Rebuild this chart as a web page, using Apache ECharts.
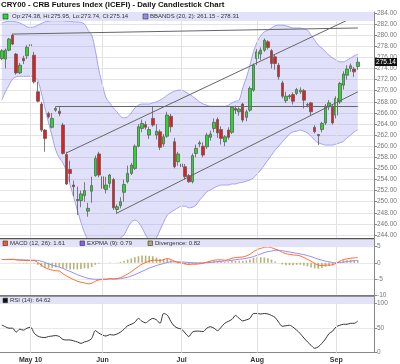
<!DOCTYPE html>
<html><head><meta charset="utf-8">
<script src="https://cdn.jsdelivr.net/npm/echarts@6/dist/echarts.min.js"></script>
<style>html,body{margin:0;padding:0;background:#fff}#c{width:400px;height:364px}</style>
</head><body><div id="c"></div>
<script>
// ---- categories (trading days 2010, plus 4 empty future slots) ----
const dates = ['04-21','04-22','04-23','04-26','04-27','04-28','04-29','04-30',
'05-03','05-04','05-05','05-06','05-07','05-10','05-11','05-12','05-13','05-14','05-17','05-18','05-19','05-20','05-21','05-24','05-25','05-26','05-27','05-28',
'06-01','06-02','06-03','06-04','06-07','06-08','06-09','06-10','06-11','06-14','06-15','06-16','06-17','06-18','06-21','06-22','06-23','06-24','06-25','06-28','06-29','06-30',
'07-01','07-02','07-06','07-07','07-08','07-09','07-12','07-13','07-14','07-15','07-16','07-19','07-20','07-21','07-22','07-23','07-26','07-27','07-28','07-29','07-30',
'08-02','08-03','08-04','08-05','08-06','08-09','08-10','08-11','08-12','08-13','08-16','08-17','08-18','08-19','08-20','08-23','08-24','08-25','08-26','08-27','08-30','08-31',
'09-01','09-02','09-03','09-07','09-08','09-09','09-10','09-13','09-14','09-15','09-16'];

const monthLabels = {'05-03':'May 10','06-01':'Jun','07-01':'Jul','08-02':'Aug','09-01':'Sep'};

// ---- OHLC ----
const open = [275.8,275.7,277.3,280.0,276.6,273.2,275.8,276.3,278.3,276.4,
269.8,267.6,262.9,265.9,263.4,266.5,266.3,263.8,258.5,255.8,
253.0,250.4,250.2,251.1,248.3,251.9,254.7,258.6,254.5,252.2,
253.3,254.0,248.6,249.3,251.7,253.6,255.1,256.0,260.0,263.2,
263.9,262.0,265.0,262.0,262.6,260.4,261.8,265.4,260.8,257.2,
256.8,256.3,254.7,253.6,258.7,260.4,260.0,259.9,261.6,263.2,
264.8,263.0,260.8,262.9,262.5,266.8,266.2,267.6,265.2,266.5,
270.1,275.8,276.6,277.3,278.8,277.2,276.1,274.6,271.4,268.2,
269.1,269.3,269.5,269.8,270.0,267.5,267.8,263.4,262.1,263.0,
264.2,267.1,267.0,265.6,268.0,271.0,272.8,274.0,273.9,274.38];
const close = [277.2,277.3,279.3,278.4,273.2,274.6,275.4,277.8,278.1,271.6,
268.1,262.9,261.4,265.3,265.0,266.8,265.9,258.7,253.2,255.1,
252.7,250.2,251.4,252.0,248.8,252.9,257.8,254.8,252.4,253.0,
254.8,248.9,249.1,250.0,253.1,255.1,256.6,260.0,263.5,264.1,
263.4,263.0,263.8,262.7,259.8,261.7,265.6,263.5,256.3,258.6,
256.3,254.5,253.6,258.3,259.6,260.6,258.4,262.0,262.2,264.3,
262.4,261.4,261.7,261.6,267.0,266.5,266.7,264.7,266.2,270.4,
274.6,277.0,277.3,279.1,277.8,274.9,274.9,272.5,269.0,269.0,
268.9,268.1,270.2,270.1,268.3,267.4,266.2,262.6,261.9,264.1,
267.2,267.8,264.2,268.6,271.3,273.0,273.9,274.5,273.4,275.14];
const high = [277.5,277.6,279.5,280.3,276.8,275.0,276.3,278.2,278.8,277.0,
271.6,268.0,263.1,266.2,266.0,267.2,267.1,264.2,259.0,257.4,
253.8,252.7,252.0,253.5,249.8,254.5,258.3,259.0,256.5,254.5,
255.0,254.3,249.5,250.8,254.0,256.5,257.0,260.3,264.0,264.8,
264.5,263.5,267.1,264.0,263.0,262.2,266.2,265.8,261.5,259.0,
257.2,256.8,255.0,258.7,260.3,261.0,260.7,262.4,262.8,265.0,
265.2,263.6,262.0,263.4,267.2,267.3,267.0,267.8,266.6,270.8,
274.9,277.5,277.8,279.4,279.1,277.5,276.5,275.0,271.8,269.8,
269.4,269.7,270.5,270.6,270.3,267.8,268.0,263.8,262.2,264.4,
267.6,268.3,267.6,269.0,271.6,273.5,274.6,274.9,274.3,275.95];
const low = [275.5,274.0,277.1,278.2,272.9,273.0,274.8,275.7,277.6,271.3,
267.9,262.6,259.0,265.0,263.2,266.2,265.4,258.5,253.0,253.5,
251.0,247.6,249.0,250.0,247.3,249.8,254.5,254.4,251.9,251.5,
252.5,248.5,247.8,248.8,250.0,253.3,254.8,255.7,259.8,262.5,
263.0,261.3,263.5,261.2,259.3,259.9,261.5,262.5,256.0,256.5,
255.3,254.0,253.4,253.3,258.0,259.8,258.0,259.5,261.0,262.5,
261.5,260.3,260.0,261.2,262.2,265.8,265.5,264.3,264.5,266.2,
269.8,274.6,275.5,277.0,277.4,274.0,273.8,272.0,268.6,267.8,
268.5,267.5,269.2,269.4,266.8,267.0,265.6,262.3,260.2,262.5,
263.8,266.5,263.9,265.0,267.6,270.2,272.0,273.4,272.5,273.74];

// ---- Bollinger bands (20, 2) ----
const bbUpper = [282.2,282.4,282.5,282.5,282.4,282.2,281.9,281.5,281.4,281.5,
281.8,282.1,282.4,282.5,282.6,282.6,282.6,282.6,282.5,282.5,
282.4,282.4,282.3,282.0,280.9,280.0,277.3,273.7,271.0,268.7,
267.8,266.9,266.2,265.4,265.1,265.3,266.0,266.9,267.4,267.6,
267.6,267.6,267.8,268.0,268.3,268.7,269.2,269.6,269.9,270.1,
270.1,269.8,269.4,269.0,268.5,268.0,267.6,267.4,267.2,267.2,
267.2,267.2,267.2,267.4,267.8,268.1,268.3,270.5,272.3,274.6,
277.0,278.8,279.9,280.6,280.9,281.3,281.7,281.8,281.8,281.7,
281.5,281.3,281.3,281.3,281.1,280.9,280.0,279.1,278.2,277.7,
277.0,276.4,275.9,275.5,275.2,275.2,275.5,275.9,276.3,276.6];
const bbLower = [268.3,269.8,271.0,272.1,272.5,272.6,272.6,272.6,272.6,272.5,
271.9,269.6,266.9,264.2,261.8,259.3,257.9,257.0,255.4,253.0,
250.8,248.5,246.3,244.4,243.1,242.2,241.7,241.3,241.3,241.3,
241.7,242.2,242.7,243.5,244.0,245.3,246.3,246.7,246.3,245.3,
244.0,243.1,242.7,243.5,244.9,246.3,247.6,248.1,248.5,248.9,
249.2,249.2,248.9,249.0,249.4,250.3,251.0,251.8,252.1,252.5,
252.8,253.0,253.0,253.0,253.2,253.2,253.4,253.5,253.7,253.9,
254.3,255.0,255.7,256.6,257.5,258.4,259.3,260.0,260.8,261.5,
262.2,262.6,262.7,262.9,262.7,262.4,261.8,261.1,260.6,260.4,
260.2,260.2,260.2,260.4,260.6,260.9,261.5,262.0,262.6,262.9];

// ---- MACD (12, 26), EXPMA (9), divergence ----
const macd = [1.0,1.0,1.05,1.1,0.95,0.8,0.75,0.7,0.7,0.7,
0.1,-0.7,-1.5,-1.9,-2.2,-2.4,-2.5,-3.3,-4.0,-4.6,
-5.1,-5.6,-5.9,-6.1,-6.4,-6.2,-5.6,-5.2,-5.0,-5.0,
-4.8,-4.9,-4.8,-4.5,-4.0,-3.4,-2.7,-1.9,-1.1,-0.4,
0.1,0.5,0.8,0.8,0.7,1.0,1.3,1.0,0.5,0.1,
0.0,-0.3,-0.5,-0.4,-0.4,-0.3,-0.1,0.2,0.5,0.8,
0.9,0.9,0.8,1.0,1.4,1.6,1.7,1.8,2.1,2.6,
3.4,4.0,4.4,4.7,4.8,4.6,4.2,3.8,3.2,2.8,
2.6,2.4,2.3,2.1,1.6,1.1,0.5,-0.2,-0.7,-0.8,
-0.7,-0.7,-0.6,-0.1,0.5,1.0,1.2,1.4,1.5,1.61];
const expma = [1.0,1.0,1.0,1.0,0.95,0.9,0.9,0.85,0.8,0.8,
0.7,0.5,0.1,-0.3,-0.7,-1.0,-1.3,-1.7,-2.2,-2.6,
-3.1,-3.6,-4.0,-4.4,-4.7,-4.9,-5.0,-5.0,-5.0,-5.0,
-4.9,-4.9,-4.9,-4.8,-4.6,-4.4,-4.0,-3.6,-3.1,-2.6,
-2.1,-1.6,-1.2,-0.8,-0.5,-0.2,0.1,0.3,0.35,0.3,
0.25,0.2,0.1,0.05,0.0,0.0,0.0,0.05,0.1,0.25,
0.35,0.45,0.55,0.65,0.8,0.95,1.1,1.2,1.4,1.6,
1.9,2.3,2.7,3.1,3.4,3.6,3.8,3.8,3.7,3.5,
3.3,3.1,2.9,2.7,2.5,2.2,1.9,1.5,1.1,0.8,
0.5,0.3,0.1,0.0,0.1,0.2,0.4,0.5,0.65,0.79];
const divergence = [0.0,0.0,0.05,0.1,0.0,-0.1,-0.15,-0.15,-0.1,-0.1,
-0.6,-1.2,-1.6,-1.6,-1.5,-1.4,-1.2,-1.6,-1.8,-2.0,
-2.0,-2.0,-1.9,-1.7,-1.7,-1.3,-0.6,-0.2,0.0,0.0,
0.1,0.0,0.1,0.3,0.6,1.0,1.3,1.7,2.0,2.2,
2.2,2.1,2.0,1.6,1.2,1.2,1.2,0.7,0.15,-0.2,
-0.25,-0.5,-0.6,-0.45,-0.4,-0.3,-0.1,0.15,0.4,0.55,
0.55,0.45,0.25,0.35,0.6,0.65,0.6,0.6,0.7,1.0,
1.5,1.7,1.7,1.6,1.4,1.0,0.4,0.0,-0.5,-0.7,
-0.7,-0.7,-0.6,-0.6,-0.9,-1.1,-1.4,-1.7,-1.8,-1.6,
-1.2,-1.0,-0.7,-0.1,0.4,0.8,0.8,0.9,0.85,0.82];

// ---- RSI (14) ----
const rsi = [56.5,53,50,50,42,48,46,50,52,40,
34,31.5,31,33,34,35,33,27,26,26,
24,22,19,22,24,29,45,40,36,34,
37,36,38,42,48,55,58,62,70,64,
61,66,70,67,60,80,77,64,54,50,
48,40,33,42,44,44,43,50,53,50,
45,52,60,64,68,76,70,65,67,70,
80,80,79,80,79,76,72,62,54,55,
56,52,46,39,30,22,15,9,12,19,
28,39,44,53,56,58,58,60,60,64.62];

// ---- drawn trend / support lines: [date, price] endpoints ----
const trendLines = [
  [['04-26', 280.2], ['09-10', 281.3]],
  [['05-17', 258.8], ['09-09', 283.3]],
  [['06-07', 247.95], ['09-10', 269.8]],
  [['05-12', 267.2], ['09-10', 267.2]]
];

const legendMain = 'Op:274.38, Hi:275.95, Lo:273.74, Cl:275.14';
const legendBB = 'BBANDS (20, 2): 261.15 - 278.31';
const legendMACD = 'MACD (12, 26): 1.61';
const legendEXPMA = 'EXPMA (9): 0.79';
const legendDiv = 'Divergence: 0.82';
const legendRSI = 'RSI (14): 64.62';
const lastPrice = '275.14';

// ---- build ----
const candleData = open.map((o, i) => [o, close[i], low[i], high[i]]);
const bandSpan = bbUpper.map((u, i) => +(u - bbLower[i]).toFixed(2));
const monthKeys = Object.keys(monthLabels);
const vLines = (color) => ({
  silent: true, symbol: ['none', 'none'], label: {show: false},
  lineStyle: {color: color, width: 1, type: 'solid'},
  data: monthKeys.map(k => ({xAxis: k}))
});
const FONT = '"Liberation Sans", Arial, sans-serif';
const L = -2.1, R = 26;
const xBase = (gi, showLabels) => ({
  type: 'category', gridIndex: gi, data: dates, boundaryGap: true,
  axisLine: {show: showLabels, lineStyle: {color: '#888'}},
  axisTick: {show: false},
  splitLine: {show: false},
  axisLabel: showLabels ? {
    show: true, interval: (i, v) => monthLabels[v] !== undefined,
    formatter: v => monthLabels[v] || '', fontSize: 7, fontWeight: 'bold',
    color: '#333', fontFamily: FONT, margin: 3.5
  } : {show: false}
});
const yLab = {fontSize: 6.5, color: '#777', fontFamily: FONT, margin: 3};
const LEG = '6px ' + FONT;

const chart = echarts.init(document.getElementById('c'), null, {renderer: 'canvas'});
chart.setOption({
  animation: false,
  grid: [
    {left: L, right: R, top: 12, height: 226.5},
    {left: L, right: R, top: 13, height: 222},
    {left: L, right: R, top: 239, height: 56.7},
    {left: L, right: R, top: 296, height: 56.7}
  ],
  xAxis: [xBase(0, false), xBase(1, false), xBase(2, false), xBase(3, true)],
  yAxis: [
    {type: 'value', gridIndex: 0, position: 'right', min: 243.37, max: 284.18,
     axisLine: {show: true, lineStyle: {color: '#888'}}, axisTick: {show: false},
     axisLabel: {show: false}, splitLine: {show: false}},
    {type: 'value', gridIndex: 1, position: 'right', min: 244, max: 284, interval: 2,
     axisLine: {show: false}, axisTick: {show: true, length: 3, lineStyle: {color: '#888'}},
     axisLabel: Object.assign({formatter: v => v.toFixed(2)}, yLab),
     splitLine: {show: true, lineStyle: {color: '#e4e4e4', width: 1}}},
    {type: 'value', gridIndex: 2, position: 'right', min: -10, max: 7.25, interval: 5,
     axisLine: {show: true, lineStyle: {color: '#888'}},
     axisTick: {show: true, length: 3, lineStyle: {color: '#888'}},
     axisLabel: Object.assign({showMaxLabel: false}, yLab),
     splitLine: {show: true, lineStyle: {color: '#e8e8e8'}}},
    {type: 'value', gridIndex: 3, position: 'right', min: 0, max: 115.7, interval: 50,
     axisLine: {show: true, lineStyle: {color: '#888'}},
     axisTick: {show: true, length: 3, lineStyle: {color: '#888'}},
     axisLabel: Object.assign({showMaxLabel: false}, yLab),
     splitLine: {show: true, lineStyle: {color: '#e8e8e8'}}}
  ],
  series: [
    {type: 'line', name: 'bbLower', xAxisIndex: 0, yAxisIndex: 0, data: bbLower, stack: 'bb',
     symbol: 'none', smooth: 0.3, lineStyle: {color: '#a2a2ee', width: 1}, z: 1,
     markLine: vLines('#e2e2e2')},
    {type: 'line', name: 'bbUpper', xAxisIndex: 0, yAxisIndex: 0, data: bandSpan, stack: 'bb',
     symbol: 'none', smooth: 0.3, lineStyle: {color: '#a2a2ee', width: 1},
     areaStyle: {color: 'rgba(150,150,240,0.42)'}, z: 1},
    {type: 'candlestick', xAxisIndex: 0, yAxisIndex: 0, data: candleData, barWidth: 3,
     itemStyle: {color: '#22dd22', color0: '#ee1a1a', borderColor: '#5e5e5e', borderColor0: '#5e5e5e', borderWidth: 0.8},
     z: 3,
     markLine: {silent: true, symbol: ['none', 'none'], label: {show: false},
       lineStyle: {color: '#666', width: 1, type: 'solid'},
       data: trendLines.map(t => [{coord: t[0]}, {coord: t[1]}])}},
    {type: 'bar', xAxisIndex: 2, yAxisIndex: 2, data: divergence, barWidth: 1.6,
     itemStyle: {color: '#b8b277'}, z: 2, markLine: vLines('#e2e2e2')},
    {type: 'line', xAxisIndex: 2, yAxisIndex: 2, data: expma, symbol: 'none', smooth: 0.3,
     lineStyle: {color: '#9a88f2', width: 1}, z: 3},
    {type: 'line', xAxisIndex: 2, yAxisIndex: 2, data: macd, symbol: 'none', smooth: 0.3,
     lineStyle: {color: '#ff6a2a', width: 1}, z: 4},
    {type: 'line', xAxisIndex: 3, yAxisIndex: 3, data: rsi, symbol: 'none', smooth: 0.3,
     lineStyle: {color: '#333', width: 1}, z: 3, markLine: vLines('#e2e2e2')}
  ],
  graphic: [
    {type: 'text', x: 1, y: 5, z: 60, style: {text: 'CRY00 - CRB Futures Index (ICEFI) - Daily Candlestick Chart',
      font: 'bold 7.8px ' + FONT, fill: '#111', verticalAlign: 'middle'}},
    // main legend band
    {type: 'rect', z: 50, shape: {x: 0, y: 12, width: 374, height: 9}, style: {fill: '#e2e2f8'}},
    {type: 'rect', z: 51, shape: {x: 3, y: 14, width: 5, height: 5}, style: {fill: '#22dd22', stroke: '#333', lineWidth: 0.6}},
    {type: 'text', x: 12, y: 16.8, z: 51, style: {text: legendMain, font: LEG, fill: '#333', verticalAlign: 'middle'}},
    {type: 'rect', z: 51, shape: {x: 143, y: 14, width: 5, height: 5}, style: {fill: '#9090ee', stroke: '#333', lineWidth: 0.6}},
    {type: 'text', x: 150, y: 16.8, z: 51, style: {text: legendBB, font: LEG, fill: '#333', verticalAlign: 'middle'}},
    // price box
    {type: 'rect', z: 51, shape: {x: 375, y: 58, width: 22, height: 8}, style: {fill: '#111'}},
    {type: 'text', x: 386, y: 62.2, z: 52, style: {text: lastPrice, font: '6.5px ' + FONT, fill: '#fff', align: 'center', verticalAlign: 'middle'}},
    // panel separators
    {type: 'rect', z: 49, shape: {x: 0, y: 238, width: 374, height: 1.6}, style: {fill: '#555'}},
    {type: 'rect', z: 49, shape: {x: 0, y: 295.2, width: 374, height: 1.6}, style: {fill: '#555'}},
    // MACD legend band
    {type: 'rect', z: 50, shape: {x: 0, y: 239.6, width: 374, height: 7.6}, style: {fill: '#e2e2f8'}},
    {type: 'rect', z: 51, shape: {x: 3, y: 241, width: 4.5, height: 4.5}, style: {fill: '#ff5a10', stroke: '#333', lineWidth: 0.6}},
    {type: 'text', x: 10, y: 243.5, z: 51, style: {text: legendMACD, font: LEG, fill: '#333', verticalAlign: 'middle'}},
    {type: 'rect', z: 51, shape: {x: 80, y: 241, width: 4.5, height: 4.5}, style: {fill: '#8a5cf0', stroke: '#333', lineWidth: 0.6}},
    {type: 'text', x: 87, y: 243.5, z: 51, style: {text: legendEXPMA, font: LEG, fill: '#333', verticalAlign: 'middle'}},
    {type: 'rect', z: 51, shape: {x: 148, y: 241, width: 4.5, height: 4.5}, style: {fill: '#b0aa66', stroke: '#333', lineWidth: 0.6}},
    {type: 'text', x: 155, y: 243.5, z: 51, style: {text: legendDiv, font: LEG, fill: '#333', verticalAlign: 'middle'}},
    // RSI legend band
    {type: 'rect', z: 50, shape: {x: 0, y: 296.8, width: 374, height: 7}, style: {fill: '#e2e2f8'}},
    {type: 'rect', z: 51, shape: {x: 3, y: 298.2, width: 4.5, height: 4.5}, style: {fill: '#111', stroke: '#333', lineWidth: 0.6}},
    {type: 'text', x: 10, y: 300.5, z: 51, style: {text: legendRSI, font: LEG, fill: '#333', verticalAlign: 'middle'}}
  ]
});
</script></body></html>
